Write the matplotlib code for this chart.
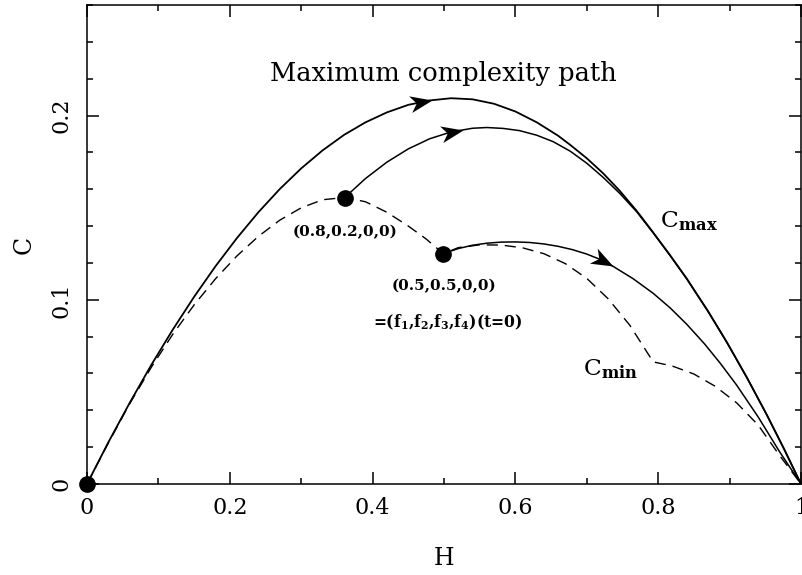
import numpy as np
import matplotlib
matplotlib.use('Agg')
import matplotlib.pyplot as plt
from matplotlib.markers import MarkerStyle
from matplotlib.path import Path
from matplotlib.transforms import Affine2D
from matplotlib.ticker import MultipleLocator, FuncFormatter

plt.rcParams['font.family'] = ['DejaVu Serif']
plt.rcParams['mathtext.fontset'] = 'dejavuserif'

# C_max curve
h_max = [0, 0.03, 0.06, 0.09, 0.12, 0.15, 0.18, 0.21, 0.24, 0.27, 0.30, 0.33, 0.36,
         0.39, 0.42, 0.45, 0.48, 0.51, 0.54, 0.57, 0.60, 0.63, 0.66, 0.677, 0.700,
         0.723, 0.746, 0.770, 0.793, 0.817, 0.840, 0.870, 0.896, 0.924, 0.952, 0.976, 1.0]
c_max = [0, 0.0227, 0.0442, 0.0646, 0.0837, 0.1016, 0.1182, 0.1335, 0.1475, 0.1601, 0.1713,
         0.1811, 0.1895, 0.1963, 0.2017, 0.2058, 0.2082, 0.2094, 0.2088, 0.2064, 0.2022,
         0.1963, 0.1890, 0.1840, 0.1768, 0.1686, 0.1592, 0.1482, 0.1365, 0.1240, 0.1115,
         0.0937, 0.0771, 0.0580, 0.0377, 0.0193, 0]

# path starting at (0.8,0.2,0,0)
h_p2 = [0.361, 0.39, 0.42, 0.45, 0.48, 0.51, 0.54, 0.56, 0.583, 0.606, 0.630, 0.653,
        0.677, 0.700, 0.723, 0.746, 0.770, 0.793, 0.817, 0.840, 0.870, 0.896, 0.924,
        0.952, 0.976, 1.0]
c_p2 = [0.1555, 0.1658, 0.1747, 0.1819, 0.1874, 0.1911, 0.1931, 0.1935, 0.1930, 0.1918,
        0.1893, 0.1858, 0.1806, 0.1741, 0.1664, 0.1578, 0.1477, 0.1363, 0.1238, 0.1113,
        0.0935, 0.0769, 0.0578, 0.0375, 0.0191, 0]

# path starting at (0.5,0.5,0,0)
h_p3 = [0.499, 0.52, 0.54, 0.56, 0.58, 0.60, 0.62, 0.64, 0.66, 0.68, 0.70, 0.72,
        0.737, 0.765, 0.793, 0.817, 0.840, 0.865, 0.887, 0.910, 0.940, 0.970, 1.0]
c_p3 = [0.125, 0.1278, 0.1296, 0.1307, 0.1313, 0.1314, 0.1311, 0.1303, 0.1290, 0.1272,
        0.1248, 0.1217, 0.1181, 0.1114, 0.1035, 0.0955, 0.0867, 0.0760, 0.0655, 0.0536,
        0.0364, 0.0175, 0]

# C_min curve (dashed)
h_min = [0, 0.03, 0.06, 0.09, 0.12, 0.15, 0.18, 0.21, 0.24, 0.27, 0.30, 0.33, 0.361,
         0.39, 0.42, 0.45, 0.475, 0.499, 0.52, 0.55, 0.58, 0.61, 0.64, 0.67, 0.70, 0.73,
         0.76, 0.793, 0.82, 0.85, 0.88, 0.91, 0.94, 0.97, 1.0]
c_min = [0, 0.0224, 0.0437, 0.0633, 0.0812, 0.0972, 0.1114, 0.1238, 0.1344, 0.1432,
         0.1499, 0.1543, 0.1555, 0.1532, 0.1475, 0.1400, 0.1330, 0.125, 0.1283, 0.1298,
         0.1297, 0.1282, 0.1250, 0.1196, 0.1116, 0.1005, 0.0863, 0.0663, 0.0640, 0.0597,
         0.0530, 0.0440, 0.0320, 0.0155, 0]

# starting points and arrow tips
dot_h = [0, 0.361, 0.499]
dot_c = [0, 0.1555, 0.125]
arrow_tips = [0.483, 0.527, 0.737]

fig = plt.figure(figsize=(8.02, 5.75), dpi=100)
ax = fig.add_axes([87/802, 1-484/575, 714/802, 479/575])

ax.plot(h_max, c_max, color='k', lw=1.3)
ax.plot(h_p2, c_p2, color='k', lw=1.1)
ax.plot(h_p3, c_p3, color='k', lw=1.1)
ax.plot(h_min, c_min, color='k', lw=1.0, dashes=(8, 5))
ax.plot(dot_h, dot_c, 'o', color='k', ms=11, clip_on=False, zorder=5)

ax.set_xlim(0, 1)
ax.set_ylim(0, 0.26)

# arrowheads along the paths
head = Path([(0, 0), (-1, 0.38), (-0.72, 0), (-1, -0.38), (0, 0)],
            [Path.MOVETO, Path.LINETO, Path.LINETO, Path.LINETO, Path.CLOSEPOLY])
for hs, cs, ht in zip([h_max, h_p2, h_p3], [c_max, c_p2, c_p3], arrow_tips):
    ct = np.interp(ht, hs, cs)
    cb = np.interp(ht - 0.02, hs, cs)
    p1 = ax.transData.transform((ht - 0.02, cb))
    p2 = ax.transData.transform((ht, ct))
    ang = np.degrees(np.arctan2(p2[1] - p1[1], p2[0] - p1[0]))
    m = MarkerStyle(head, transform=Affine2D().rotate_deg(ang))
    ax.plot([ht], [ct], marker=m, ms=32, color='k', mew=0, ls='none', zorder=6)

# texts
ax.text(0.499, 0.219, 'Maximum complexity path', fontsize=18.5, ha='center', va='baseline')
ax.text(0.361, 0.137, '(0.8,0.2,0,0)', fontsize=11, fontweight='bold', ha='center', va='center')
ax.text(0.500, 0.1076, '(0.5,0.5,0,0)', fontsize=11, fontweight='bold', ha='center', va='center')
ax.text(0.505, 0.0878,
        r'=(f$_{\mathbf{1}}$,f$_{\mathbf{2}}$,f$_{\mathbf{3}}$,f$_{\mathbf{4}}$)(t=0)',
        fontsize=11.2, fontweight='bold', ha='center', va='center')
ax.text(0.8025, 0.1393, r'C$_{\mathbf{max}}$', fontsize=16.8, ha='left', va='baseline')
ax.text(0.6947, 0.059, r'C$_{\mathbf{min}}$', fontsize=16.8, ha='left', va='baseline')

# axes styling
for s in ax.spines.values():
    s.set_linewidth(1.1)
ax.xaxis.set_major_locator(MultipleLocator(0.2))
ax.xaxis.set_minor_locator(MultipleLocator(0.1))
ax.yaxis.set_major_locator(MultipleLocator(0.1))
ax.yaxis.set_minor_locator(MultipleLocator(0.02))
fmt = FuncFormatter(lambda v, _: '{:g}'.format(round(v, 3)))
ax.xaxis.set_major_formatter(fmt)
ax.yaxis.set_major_formatter(fmt)
ax.tick_params(which='both', direction='in', top=True, right=True, width=1.1)
ax.tick_params(which='major', length=8.6)
ax.tick_params(which='minor', length=4.3)
ax.tick_params(axis='x', pad=9, labelsize=16)
ax.tick_params(axis='y', pad=10.5, labelsize=16, labelrotation=90)
plt.setp(ax.get_yticklabels(), va='center')

ax.set_xlabel('H', fontsize=17)
ax.xaxis.set_label_coords(0.5, -0.131)
ax.set_ylabel('C', fontsize=17)
ax.yaxis.set_label_coords(-0.072, 0.5)

fig.savefig('out.png', dpi=100)
